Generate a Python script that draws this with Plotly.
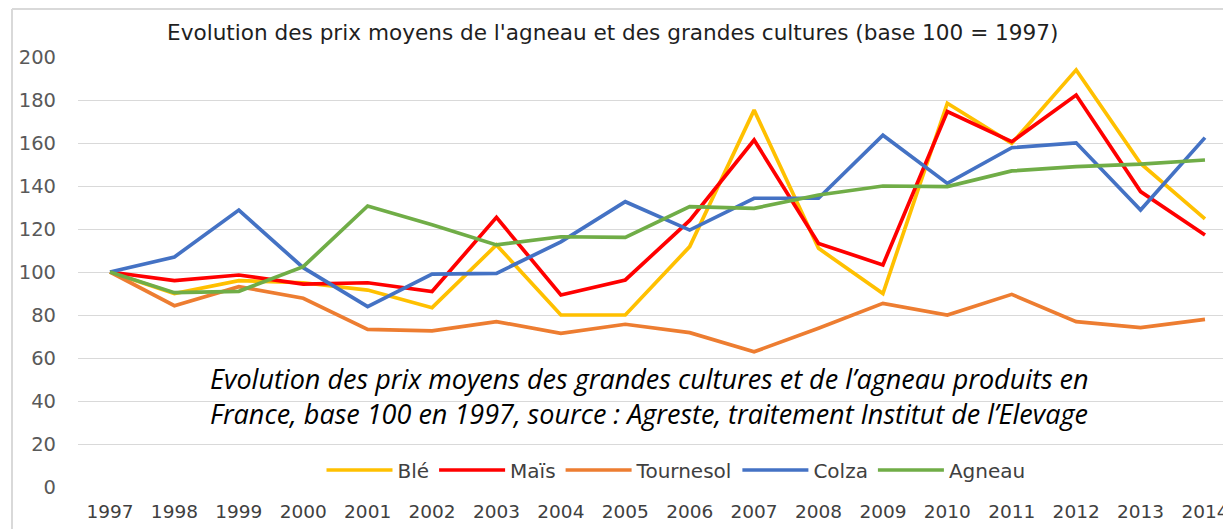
import plotly.graph_objects as go

years = [str(y) for y in range(1997, 2015)]
ble = [100, 90, 96, 95, 91.6, 83.4, 112.6, 80, 80, 111.8, 175.3, 111, 90, 178.5, 159.8, 194, 150.5, 124.7]
mais = [100, 96, 98.6, 94.4, 95, 90.9, 125.4, 89.3, 96.3, 124, 161.4, 113.3, 103.3, 174.6, 160.6, 182.3, 137.4, 117.2]
tournesol = [100, 84.3, 93.2, 87.8, 73.3, 72.6, 76.9, 71.5, 75.7, 71.8, 62.9, 73.8, 85.4, 80, 89.6, 76.9, 74.1, 78]
colza = [100, 107, 128.8, 102, 83.9, 99, 99.4, 114, 132.7, 119.5, 134.3, 134.3, 163.6, 141.2, 157.8, 160.1, 128.8, 162.5]
agneau = [100, 90.4, 91, 102.5, 130.7, 122, 112.6, 116.4, 116.1, 130.4, 129.6, 135.8, 140, 139.7, 147, 149, 150.2, 152.1]

series = [
    ("Blé", ble, "#FFC000"),
    ("Maïs", mais, "#FF0000"),
    ("Tournesol", tournesol, "#ED7D31"),
    ("Colza", colza, "#4472C4"),
    ("Agneau", agneau, "#70AD47"),
]

title = "Evolution des prix moyens de l'agneau et des grandes cultures (base 100 = 1997)"
note = ("Evolution des prix moyens des grandes cultures et de l\u2019agneau produits en<br>"
        "France, base 100 en 1997, source : Agreste, traitement Institut de l\u2019Elevage")

fig = go.Figure()
for name, vals, col in series:
    fig.add_trace(go.Scatter(x=years, y=vals, mode="lines", name=name,
                             line=dict(color=col, width=3.7)))

OFF = 8  # page body margin
W, H = 1231 - OFF, 529 - OFF
# target positions in page pixels
left_px, top_px, bottom_px = 78, 57, 487
ml, mr, mt, mb = left_px - OFF, 0, top_px - OFF, 529 - bottom_px
pw = W - ml - mr
ph = H - mt - mb


def px_x(p):
    return (p - left_px) / pw


def px_y(p):
    return (bottom_px - p) / ph


fig.update_layout(
    width=W, height=H,
    margin=dict(l=ml, r=mr, t=mt, b=mb),
    paper_bgcolor="white", plot_bgcolor="white",
    font=dict(family="DejaVu Sans", color="#595959"),
    showlegend=True,
    legend=dict(orientation="h", x=px_x(676), xanchor="center", y=px_y(470), yanchor="middle",
                font=dict(size=20, color="#404040"), bgcolor="rgba(0,0,0,0)",
                itemwidth=66, tracegroupgap=0),
    xaxis=dict(type="category", range=[-0.497, 17.404], showgrid=False, showline=False,
               ticks="", tickfont=dict(size=18.5, color="#404040"), ticklabelstandoff=11),
    yaxis=dict(range=[0, 200], dtick=20, showgrid=True, gridcolor="#D9D9D9", gridwidth=1.3,
               zeroline=False, showline=False, ticks="", tickfont=dict(size=19.5, color="#595959"),
               ticklabelstandoff=21),
)

fig.add_annotation(text=title, xref="paper", yref="paper",
                   x=px_x(613), y=px_y(33), xanchor="center", yanchor="middle",
                   showarrow=False, font=dict(size=21.6, color="#1f1f1f", family="DejaVu Sans"))

fig.add_annotation(text=note, xref="paper", yref="paper",
                   x=px_x(208), y=px_y(396), xanchor="left", yanchor="middle",
                   align="left", showarrow=False,
                   font=dict(size=27, color="#000000", family="Open Sans", style="italic"))

# chart area border (top and left edges)
fig.add_shape(type="line", xref="paper", yref="paper",
              x0=px_x(12), x1=1.01, y0=px_y(9), y1=px_y(9),
              line=dict(color="#D9D9D9", width=2))
fig.add_shape(type="line", xref="paper", yref="paper",
              x0=px_x(12), x1=px_x(12), y0=px_y(9), y1=-0.2,
              line=dict(color="#D9D9D9", width=2))

fig.write_html("out.html")
